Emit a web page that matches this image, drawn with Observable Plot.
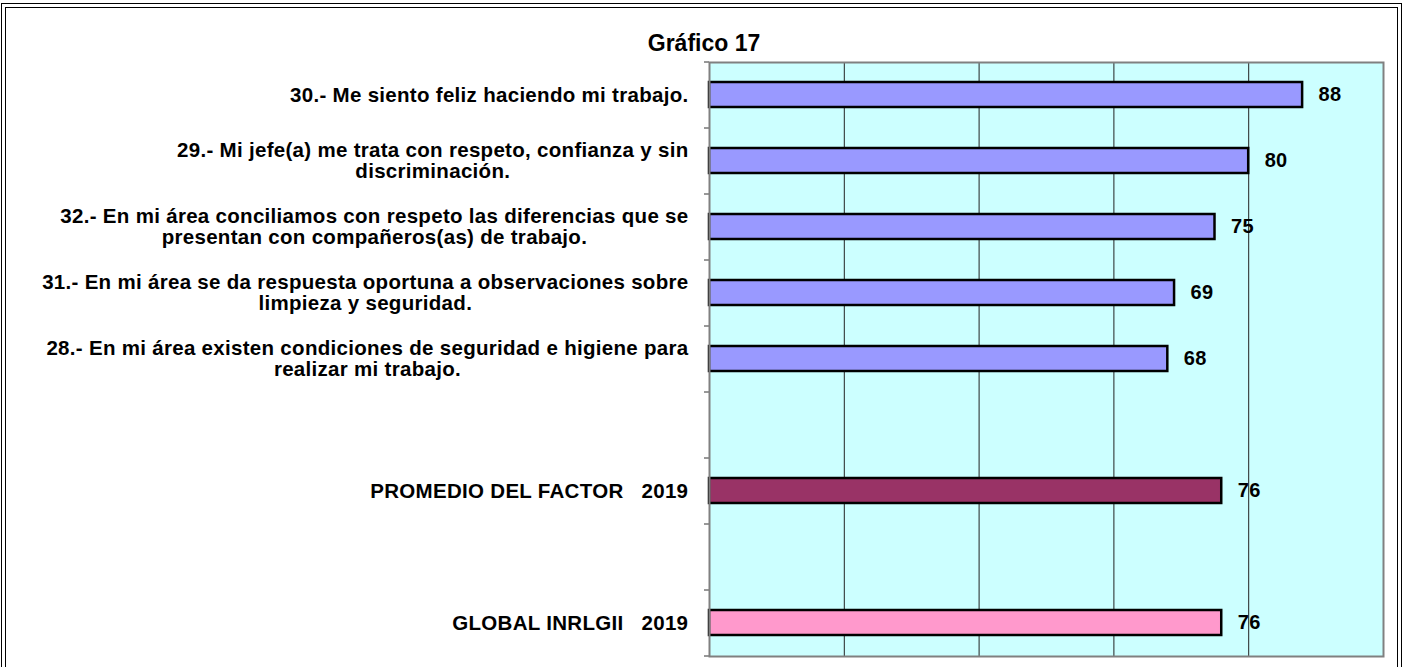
<!DOCTYPE html>
<html><head><meta charset="utf-8">
<script src="https://cdn.jsdelivr.net/npm/d3@7"></script>
<script src="https://cdn.jsdelivr.net/npm/@observablehq/plot@0.6"></script>
<style>
body{margin:0;background:#fff;}
#wrap{position:relative;width:1403px;height:667px;overflow:hidden;background:#fff;}
.b{position:absolute;box-sizing:border-box;border:1px solid #000;}
#b1{left:1px;top:3px;width:1401px;height:720px;}
#b2{left:5px;top:7px;width:1393px;height:720px;}
#title{position:absolute;top:30px;left:0;width:1408px;text-align:center;font:bold 23px "Liberation Sans",Arial,sans-serif;color:#000;}
#chart{position:absolute;left:0;top:55px;}
</style></head><body>
<div id="wrap"><div class="b" id="b1"></div><div class="b" id="b2"></div><div id="title">Gráfico 17</div><div id="chart"></div></div>
<script>
const categories = [
  "30.- Me siento feliz haciendo mi trabajo.",
  "29.- Mi jefe(a) me trata con respeto, confianza y sin\ndiscriminación.",
  "32.- En mi área conciliamos con respeto las diferencias que se\npresentan con compañeros(as) de trabajo.",
  "31.- En mi área se da respuesta oportuna a observaciones sobre\nlimpieza y seguridad.",
  "28.- En mi área existen condiciones de seguridad e higiene para\nrealizar mi trabajo.",
  "",
  "PROMEDIO DEL FACTOR\u00a0\u00a0\u00a02019",
  " ",
  "GLOBAL INRLGII\u00a0\u00a0\u00a02019"
];
const values = [88, 80, 75, 69, 68, null, 76, null, 76];
const colors = ["#9999FF", "#9999FF", "#9999FF", "#9999FF", "#9999FF", null, "#993366", null, "#FF99CC"];
const gridValues = [20, 40, 60, 80];

const rows = categories.map((c, i) => ({cat: c, value: values[i], color: colors[i]})).filter(d => d.value != null);

const W = 1403, H = 612, mt = 7, mb = 11, ml = 709, mr = 20;
const step = (H - mt - mb) / categories.length;
const FS = 20.5, LS = 0.3;
const font = `bold ${FS}px "Liberation Sans", Arial, sans-serif`;
const ctx = document.createElement("canvas").getContext("2d");
ctx.font = font;
const blockWidth = s => Math.max(...s.split("\n").map(l => ctx.measureText(l).width + LS * l.length));

const labelMarks = categories.filter(c => c.trim() !== "").map(c =>
  Plot.text([c], {
    y: d => d, text: d => d, frameAnchor: "left", textAnchor: "middle",
    dx: -(21 + blockWidth(c) / 2), lineHeight: 1.03,
    fontSize: FS, fontWeight: "bold", fill: "#000"
  })
);

const chart = Plot.plot({
  width: W, height: H,
  marginTop: mt, marginBottom: mb, marginLeft: ml, marginRight: mr,
  style: {fontFamily: '"Liberation Sans", Arial, sans-serif', letterSpacing: LS + "px", background: "transparent", overflow: "visible"},
  x: {domain: [0, 100], axis: null},
  y: {domain: categories, axis: null, paddingInner: 0.62, paddingOuter: 0.31},
  color: {type: "identity"},
  marks: [
    Plot.frame({fill: "#CCFFFF", stroke: null}),
    Plot.ruleX(gridValues, {stroke: "#222", strokeWidth: 1}),
    Plot.axisY(categories, {tickSize: 5, tickFormat: () => "", dy: -step / 2, stroke: "#333", label: null}),
    Plot.axisY([categories[categories.length - 1]], {tickSize: 5, tickFormat: () => "", dy: step / 2, stroke: "#333", label: null}),
    Plot.barX(rows, {x: "value", y: "cat", fill: "color", stroke: "#000", strokeWidth: 2.5}),
    Plot.text(rows, {x: "value", y: "cat", text: d => String(d.value), dx: 16, textAnchor: "start", fontSize: 20, fontWeight: "bold", fill: "#000"}),
    ...labelMarks,
    Plot.frame({stroke: "#808080", strokeWidth: 2})
  ]
});
document.getElementById("chart").appendChild(chart);
</script>
</body></html>
